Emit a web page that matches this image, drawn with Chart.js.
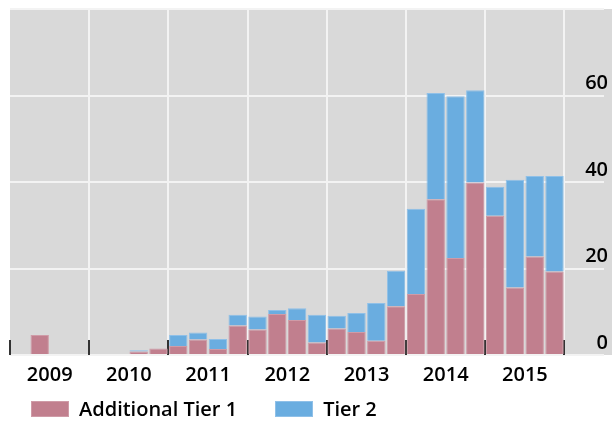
<!DOCTYPE html>
<html>
<head>
<meta charset="utf-8">
<script src="https://cdn.jsdelivr.net/npm/chart.js@4/dist/chart.umd.min.js"></script>
<style>
  html, body { margin: 0; padding: 0; background: #fff; }
  #wrap { position: relative; width: 612px; height: 423px; }
  #legend { position: absolute; left: 0; top: 397px; display: flex; align-items: center;
            font: 600 20px 'Open Sans', sans-serif; color: #000; line-height: 24px; }
  #legend .item { display: flex; align-items: center; }
  #legend .box { width: 36px; height: 14px; border-width: 1px; border-style: solid; margin-right: 10px; }
</style>
</head>
<body>
<div id="wrap">
  <canvas id="chart" width="612" height="423"></canvas>
  <div id="legend"></div>
</div>
<script>
// ── Data ──────────────────────────────────────────────
const years    = ['2009', '2010', '2011', '2012', '2013', '2014', '2015'];
const quarters = ['Q1', 'Q2', 'Q3', 'Q4'];
const yTicks   = [0, 20, 40, 60, 80];

// quarterly values, 2009 Q1 → 2015 Q4
const additionalTier1 = [0, 4.6, 0, 0,   0, 0, 0.8, 1.5,   2.1, 3.6, 1.4, 6.8,   5.9, 9.5, 8.1, 2.9,
                         6.1, 5.3, 3.3, 11.3,   14.1, 36.0, 22.4, 39.9,   32.2, 15.6, 22.8, 19.3];
const tier2           = [0, 0, 0, 0,   0, 0, 0.3, 0,   2.5, 1.6, 2.3, 2.5,   3.0, 0.9, 2.7, 6.4,
                         3.0, 4.4, 8.7, 8.2,   19.7, 24.6, 37.4, 21.3,   6.7, 24.9, 18.6, 22.1];

// two empty slots at the right leave room for the axis labels
const labels = years.flatMap(y => quarters.map(q => `${y} ${q}`)).concat(['', '']);

const COLORS = {
  tier1: '#c17f8e', tier1Border: '#cf9ba7',
  tier2: '#6aade0', tier2Border: '#8fc0e8',
  panel: '#d9d9d9', grid: '#f3f3f3', tick: '#333333',
};
const FONT = { family: "'Open Sans', sans-serif", size: 20, weight: '600' };

// ── Plugins ───────────────────────────────────────────
const panelBg = {
  id: 'panelBg',
  beforeDraw(chart) {
    const { ctx, chartArea: a } = chart;
    ctx.save();
    ctx.fillStyle = COLORS.panel;
    ctx.fillRect(a.left, a.top, chart.width - a.left, a.bottom - a.top);
    ctx.restore();
  },
};

// short dark marks standing on the baseline at each year boundary
const yearMarks = {
  id: 'yearMarks',
  beforeDatasetsDraw(chart) {
    const { ctx, chartArea: a, scales: { x } } = chart;
    const half = (x.getPixelForValue(1) - x.getPixelForValue(0)) / 2;
    ctx.save();
    ctx.strokeStyle = COLORS.tick;
    ctx.lineWidth = 2;
    for (let i = 0; i <= years.length * 4; i += 4) {
      const px = Math.round(x.getPixelForValue(i) - half);
      ctx.beginPath();
      ctx.moveTo(px, a.bottom);
      ctx.lineTo(px, a.bottom - 15);
      ctx.stroke();
    }
    ctx.restore();
  },
};

// ── Chart ─────────────────────────────────────────────
const chart = new Chart(document.getElementById('chart'), {
  type: 'bar',
  data: {
    labels,
    datasets: [
      { label: 'Additional Tier 1', data: additionalTier1,
        backgroundColor: COLORS.tier1, borderColor: COLORS.tier1Border, borderWidth: 1 },
      { label: 'Tier 2', data: tier2,
        backgroundColor: COLORS.tier2, borderColor: COLORS.tier2Border, borderWidth: 1 },
    ],
  },
  options: {
    responsive: false,
    animation: false,
    layout: { padding: { left: 10, top: 9, right: 0, bottom: 28 } },
    datasets: { bar: { barPercentage: 0.93, categoryPercentage: 1 } },
    plugins: { legend: { display: false }, tooltip: { enabled: false } },
    scales: {
      x: {
        stacked: true,
        border: { display: false },
        grid: {
          offset: true,
          drawTicks: false,
          lineWidth: 2,
          color: c => (c.index > 0 && c.index % 4 === 0 && c.index <= years.length * 4) ? COLORS.grid : 'rgba(0,0,0,0)',
        },
        ticks: {
          autoSkip: false, maxRotation: 0, minRotation: 0,
          padding: 8, labelOffset: 10,
          color: '#000', font: FONT,
          callback: (v, i) => (i % 4 === 1 && i < years.length * 4) ? years[(i - 1) / 4] : '',
        },
      },
      y: {
        stacked: true,
        position: 'right',
        min: yTicks[0], max: yTicks[yTicks.length - 1],
        border: { display: false },
        grid: { drawTicks: false, lineWidth: 2, color: COLORS.grid },
        afterBuildTicks: s => { s.ticks = yTicks.map(v => ({ value: v })); },
        // labels sit inside the panel, so no extra room above/below for them
        afterFit: s => { s.paddingTop = 0; s.paddingBottom = 0; },
        ticks: {
          mirror: true, padding: 4, labelOffset: -12,
          color: '#000', font: FONT,
          callback: v => (v === 80 ? '' : v),
        },
      },
    },
  },
  plugins: [panelBg, yearMarks],
});

// ── HTML legend built from the datasets ───────────────
(function buildLegend() {
  const el = document.getElementById('legend');
  chart.data.datasets.forEach((ds, i) => {
    const item = document.createElement('div');
    item.className = 'item';
    item.style.marginLeft = i === 0 ? '31px' : '38px';
    item.innerHTML = `<span class="box" style="background:${ds.backgroundColor};border-color:${ds.borderColor}"></span><span>${ds.label}</span>`;
    el.appendChild(item);
  });
})();
</script>
</body>
</html>
